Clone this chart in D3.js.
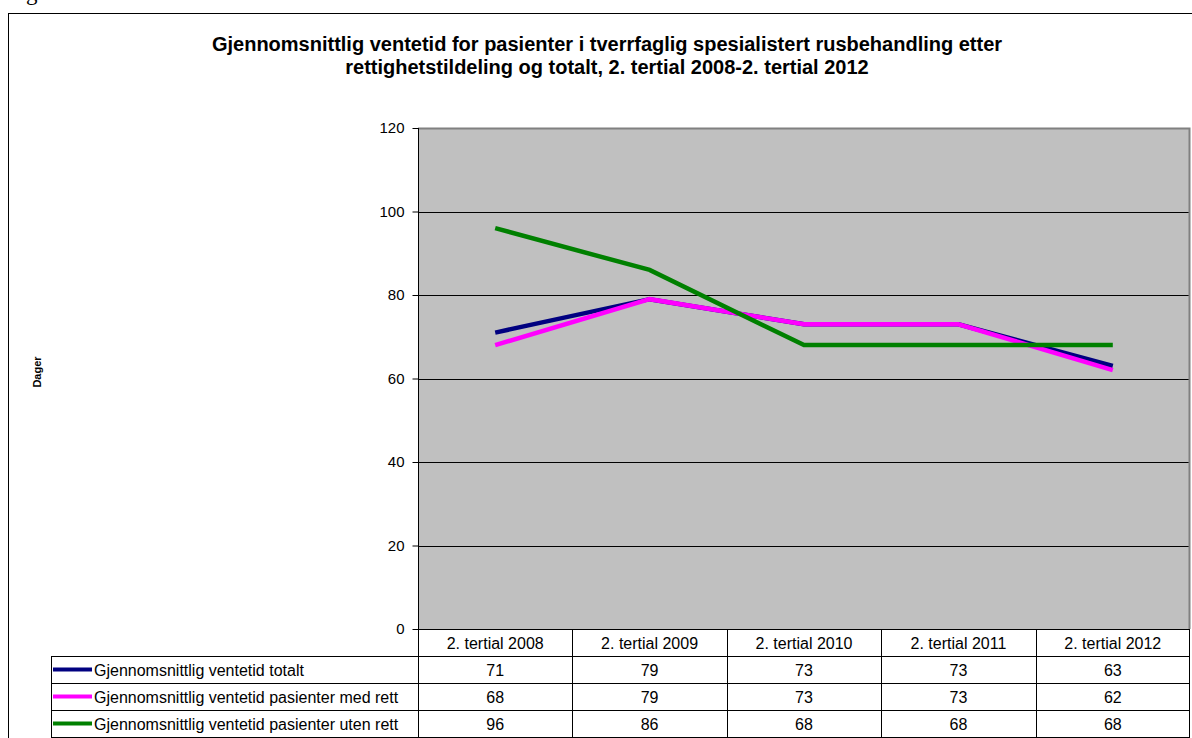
<!DOCTYPE html>
<html>
<head>
<meta charset="utf-8">
<script src="https://cdn.jsdelivr.net/npm/d3@7"></script>
<style>
  body { margin: 0; background: #fff; }
  svg { display: block; }
</style>
</head>
<body>
<div id="chart"></div>
<script>
// data
var categories = ["2. tertial 2008", "2. tertial 2009", "2. tertial 2010", "2. tertial 2011", "2. tertial 2012"];
var seriesNames = ["Gjennomsnittlig ventetid totalt", "Gjennomsnittlig ventetid pasienter med rett", "Gjennomsnittlig ventetid pasienter uten rett"];
var totalt = [71, 79, 73, 73, 63];
var medRett = [68, 79, 73, 73, 62];
var utenRett = [96, 86, 68, 68, 68];
var yTicks = [0, 20, 40, 60, 80, 100, 120];
var titleLines = ["Gjennomsnittlig ventetid for pasienter i tverrfaglig spesialistert rusbehandling etter",
  "rettighetstildeling og totalt, 2. tertial 2008-2. tertial 2012"];

var colors = ["#000080", "#ff00ff", "#008000"];
var series = [totalt, medRett, utenRett];

var svgWidth = 1192;
var svgHeight = 738;
var plot = { left: 418, right: 1190, top: 128, bottom: 629 };
var rowH = 27;
var legendLeft = 51;
var fontFam = "Arial, 'Liberation Sans', sans-serif";

var svg = d3.select("#chart")
  .append("svg")
  .attr("width", svgWidth)
  .attr("height", svgHeight)
  .style("font-family", fontFam);

// cut off caption glyph at the very top
svg.append("text")
  .attr("x", 26)
  .attr("y", 0)
  .attr("font-family", "'Liberation Serif', 'Times New Roman', serif")
  .attr("font-size", "23px")
  .text("g");

// outer frame
svg.append("rect")
  .attr("x", 8.5)
  .attr("y", 13.5)
  .attr("width", 1190)
  .attr("height", 740)
  .attr("fill", "none")
  .attr("stroke", "#000")
  .attr("stroke-width", 1);

// title
svg.append("g").selectAll("text")
  .data(titleLines)
  .enter()
  .append("text")
  .attr("x", 607)
  .attr("y", (d, i) => 51 + i * 23)
  .attr("text-anchor", "middle")
  .attr("font-size", "20px")
  .attr("font-weight", "bold")
  .text(d => d);

// scales
var xScale = d3.scaleBand()
  .domain(categories)
  .range([plot.left, plot.right]);

var yScale = d3.scaleLinear()
  .domain([0, 120])
  .range([plot.bottom, plot.top]);

// plot background
svg.append("rect")
  .attr("x", plot.left)
  .attr("y", plot.top)
  .attr("width", plot.right - plot.left)
  .attr("height", plot.bottom - plot.top)
  .attr("fill", "#c0c0c0");

// gridlines
svg.append("g").selectAll("line")
  .data(yTicks.filter(t => t > 0 && t < 120))
  .enter()
  .append("line")
  .attr("x1", plot.left)
  .attr("x2", plot.right)
  .attr("y1", d => Math.round(yScale(d)) + 0.5)
  .attr("y2", d => Math.round(yScale(d)) + 0.5)
  .attr("stroke", "#000")
  .attr("stroke-width", 1);

// gray border top and right
svg.append("path")
  .attr("d", `M${plot.left},${plot.top + 0.5}H${plot.right - 0.5}V${plot.bottom}`)
  .attr("fill", "none")
  .attr("stroke", "#808080")
  .attr("stroke-width", 2);

// y axis
var leftAxis = d3.axisLeft(yScale)
  .tickValues(yTicks)
  .tickSize(6)
  .tickPadding(8);

var yAxisG = svg.append("g")
  .attr("transform", `translate(${plot.left + 0.5},0)`)
  .call(leftAxis);
yAxisG.select(".domain").attr("d", `M0,${plot.top}V${plot.bottom}`).attr("stroke", "#000");
yAxisG.selectAll("text")
  .attr("font-size", "15px")
  .attr("font-family", fontFam)
  .attr("fill", "#000");
yAxisG.selectAll(".tick line").attr("stroke", "#000");

// y axis title
svg.append("text")
  .attr("transform", "translate(41,372) rotate(-90)")
  .attr("text-anchor", "middle")
  .attr("font-size", "11px")
  .attr("font-weight", "bold")
  .text("Dager");

// lines
var line = d3.line()
  .x((d, i) => xScale(categories[i]) + xScale.bandwidth() / 2)
  .y(d => yScale(d));

svg.append("g").selectAll("path")
  .data(series)
  .enter()
  .append("path")
  .attr("d", d => line(d))
  .attr("fill", "none")
  .attr("stroke", (d, i) => colors[i])
  .attr("stroke-width", 4.5)
  .attr("stroke-linejoin", "miter");

// data table
var table = svg.append("g");
var tableTop = plot.bottom;

// header row
table.selectAll(".hdr")
  .data(categories)
  .enter()
  .append("text")
  .attr("class", "hdr")
  .attr("x", d => xScale(d) + xScale.bandwidth() / 2)
  .attr("y", tableTop + rowH / 2 + 6)
  .attr("text-anchor", "middle")
  .attr("font-size", "16px")
  .text(d => d);

// value rows
series.forEach(function(vals, r) {
  var rowY = tableTop + rowH * (r + 1);
  table.append("g").selectAll("text")
    .data(vals)
    .enter()
    .append("text")
    .attr("x", (d, i) => xScale(categories[i]) + xScale.bandwidth() / 2)
    .attr("y", rowY + rowH / 2 + 6)
    .attr("text-anchor", "middle")
    .attr("font-size", "16px")
    .text(d => d);

  // legend key
  table.append("line")
    .attr("x1", legendLeft + 2)
    .attr("x2", 92)
    .attr("y1", rowY + 13.5)
    .attr("y2", rowY + 13.5)
    .attr("stroke", colors[r])
    .attr("stroke-width", 4);
  table.append("text")
    .attr("x", 94)
    .attr("y", rowY + rowH / 2 + 6)
    .attr("font-size", "16px")
    .text(seriesNames[r]);
});

// table grid lines
var hLines = [0, 1, 2, 3, 4];
table.append("g").selectAll("line")
  .data(hLines)
  .enter()
  .append("line")
  .attr("x1", d => d === 0 ? plot.left : legendLeft)
  .attr("x2", plot.right)
  .attr("y1", d => Math.round(tableTop + d * rowH) + 0.5)
  .attr("y2", d => Math.round(tableTop + d * rowH) + 0.5)
  .attr("stroke", "#000");

var vLines = categories.map(c => xScale(c)).concat([plot.right - 1]);
table.append("g").selectAll("line")
  .data(vLines)
  .enter()
  .append("line")
  .attr("x1", d => Math.round(d) + 0.5)
  .attr("x2", d => Math.round(d) + 0.5)
  .attr("y1", tableTop)
  .attr("y2", tableTop + rowH * 4)
  .attr("stroke", "#000");

table.append("line")
  .attr("x1", legendLeft + 0.5)
  .attr("x2", legendLeft + 0.5)
  .attr("y1", tableTop + rowH)
  .attr("y2", tableTop + rowH * 4)
  .attr("stroke", "#000");
</script>
</body>
</html>
